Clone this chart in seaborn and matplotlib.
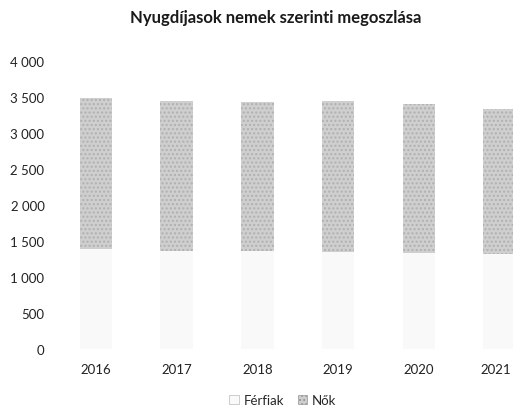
import pandas as pd
import seaborn as sns
import matplotlib
matplotlib.use("Agg")
from matplotlib import pyplot as plt
from matplotlib import transforms
from matplotlib.ticker import FuncFormatter, MultipleLocator
from matplotlib.patches import Patch

years = ["2016", "2017", "2018", "2019", "2020", "2021"]
ferfiak = [1390, 1360, 1360, 1345, 1330, 1315]
nok = [2100, 2085, 2070, 2095, 2070, 2015]

sns.set_style("white")
plt.rcParams["font.family"] = ["Lato", "DejaVu Sans"]

pdf_data = pd.DataFrame({"year": years, "Férfiak": ferfiak, "Nők": nok})
pdf_data["total"] = pdf_data["Férfiak"] + pdf_data["Nők"]

f = plt.figure(figsize=(5.13, 4.14), dpi=100)
# right side of the chart is cut off in the reference
ax = f.add_axes([55.5 / 513, 64 / 414, 484.5 / 513, 288 / 414])

nok_color = "#cfcfcf"
ferfi_color = "#f9f9f9"

sns.barplot(x="year", y="total", data=pdf_data, color=nok_color, width=0.4,
            saturation=1, ax=ax, hatch="....", edgecolor="#b0b0b0", linewidth=0)
sns.barplot(x="year", y="Férfiak", data=pdf_data, color=ferfi_color, width=0.4,
            saturation=1, ax=ax, linewidth=0)

ax.set_ylim(0, 4000)
ax.set_xlim(-0.5, 5.5)
ax.yaxis.set_major_locator(MultipleLocator(500))
ax.yaxis.set_major_formatter(FuncFormatter(lambda v, p: f"{int(v):,}".replace(",", " ")))
ax.set_xlabel("")
ax.set_ylabel("")
for side in ["top", "right", "left", "bottom"]:
    ax.spines[side].set_visible(False)
ax.tick_params(axis="both", length=0, labelsize=9.5, colors="#222222")
ax.tick_params(axis="x", pad=10)
ax.tick_params(axis="y", pad=8)

# keep the last year label inside the picture
last_label = ax.xaxis.get_major_ticks()[-1].label1
last_label.set_transform(last_label.get_transform() +
                         transforms.ScaledTranslation(-4 / 100, 0, f.dpi_scale_trans))

f.text(276 / 513, 1 - 18 / 414, "Nyugdíjasok nemek szerinti megoszlása",
       ha="center", va="center", fontsize=12, fontweight="bold", color="#1a1a1a")

handles = [Patch(facecolor=ferfi_color, edgecolor="#bbbbbb", linewidth=0.5, label="Férfiak"),
           Patch(facecolor=nok_color, edgecolor="#999999", linewidth=0.5, hatch="....", label="Nők")]
f.legend(handles=handles, loc="center", bbox_to_anchor=(283 / 513, 1 - 401 / 414),
         ncol=2, frameon=False, fontsize=9.5, handlelength=0.7, handleheight=0.7,
         handletextpad=0.4, columnspacing=1.0)

f.savefig("out.png", dpi=100)
